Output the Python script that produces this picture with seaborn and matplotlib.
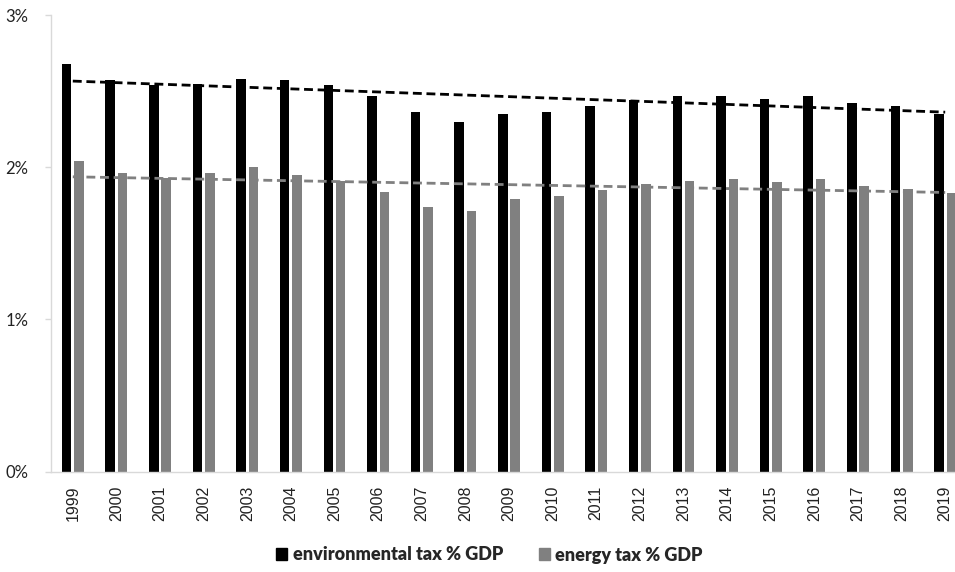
import numpy as np
import pandas as pd
import matplotlib
matplotlib.use("Agg")
import matplotlib.pyplot as plt
import seaborn as sns

# Environmental and energy taxes as share of GDP (%)
years = [str(y) for y in range(1999, 2020)]
environmental_tax = [2.68, 2.57, 2.54, 2.55, 2.58, 2.57, 2.54, 2.47, 2.36, 2.30, 2.35,
                     2.36, 2.40, 2.44, 2.47, 2.47, 2.45, 2.47, 2.42, 2.40, 2.35]
energy_tax = [2.04, 1.96, 1.93, 1.96, 2.00, 1.95, 1.91, 1.84, 1.74, 1.71, 1.79,
              1.81, 1.85, 1.89, 1.91, 1.92, 1.90, 1.92, 1.88, 1.86, 1.83]
series_names = ["environmental tax % GDP", "energy tax % GDP"]
colors = ["#000000", "#808080"]

df = pd.DataFrame({
    "year": years * 2,
    "value": environmental_tax + energy_tax,
    "series": [series_names[0]] * len(years) + [series_names[1]] * len(years),
})

sns.set_theme(style="white")
plt.rcParams["font.family"] = ["Lato", "DejaVu Sans"]

W, H = 955, 572
fig = plt.figure(figsize=(W / 100, H / 100), dpi=100)
# plot area: left edge at x=51, categories continue past the right edge
x0, x1 = 51, 967
y_top, y_bot = 15, 471.7
ax = fig.add_axes([x0 / W, 1 - y_bot / H, (x1 - x0) / W, (y_bot - y_top) / H])

sns.barplot(data=df, x="year", y="value", hue="series", palette=colors,
            width=0.568, gap=0.23, saturation=1, edgecolor="none",
            legend=False, ax=ax)

# linear trend lines for both series
pos = np.arange(len(years))
for vals, c in zip([environmental_tax, energy_tax], colors):
    sns.regplot(x=pos, y=np.array(vals), scatter=False, ci=None, truncate=True,
                line_kws=dict(color=c, lw=2.0, linestyle=(0, (3.2, 1.7))), ax=ax)

ax.set_xlim(-0.5, len(years) - 0.5)
ax.set_ylim(0, 3)
ax.set_yticks([0, 1, 2, 3])
ax.set_yticklabels(["0%", "1%", "2%", "3%"], fontsize=12, color="#222222")
ax.set_xticks(pos)
ax.set_xticklabels(years, rotation=90, fontsize=11.5, color="#222222",
                   family=["Liberation Sans", "DejaVu Sans"])
ax.set_xlabel("")
ax.set_ylabel("")
ax.grid(False)

for side in ["top", "right"]:
    ax.spines[side].set_visible(False)
for side in ["left", "bottom"]:
    ax.spines[side].set_color("#d9d9d9")
    ax.spines[side].set_linewidth(1.0)
ax.tick_params(axis="y", which="major", length=4.3, width=1.0, color="#d9d9d9",
               pad=12, left=True)
ax.tick_params(axis="x", length=0, pad=10)

handles = [plt.Rectangle((0, 0), 1, 1, color=c) for c in colors]
fig.legend(handles, series_names, loc="center", bbox_to_anchor=(489.5 / W, 1 - 555 / H),
           ncol=2, frameon=False, handlelength=0.6, handleheight=0.6,
           handletextpad=0.3, columnspacing=2.0,
           prop=dict(family=["Lato", "DejaVu Sans"], weight="heavy", size=13))

fig.savefig("out.png", dpi=100)
